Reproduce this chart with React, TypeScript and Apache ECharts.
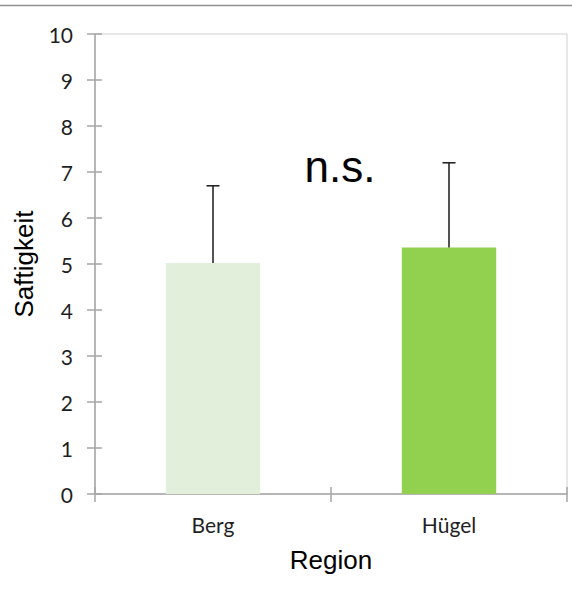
import React, { useEffect, useRef } from "react";
import * as echarts from "echarts";

const categories = ["Berg", "Hügel"];
const means = [5.02, 5.36];
const upperErrors = [6.7, 7.2];
const barColors = ["#E2EFDA", "#92D050"];
const yMin = 0;
const yMax = 10;
const yInterval = 1;
const significanceLabel = "n.s.";
const xTitle = "Region";
const yTitle = "Saftigkeit";

export default function App() {
  const ref = useRef<HTMLDivElement>(null);

  useEffect(() => {
    const chart = echarts.init(ref.current!, undefined, { renderer: "svg" });
    const axisColor = "#a6a6a6";
    const tickStyle = { color: axisColor, width: 1.5 };
    const labelFont = "Lato";
    const titleFont = "Liberation Sans";

    chart.setOption({
      animation: false,
      grid: {
        left: 95,
        right: 5,
        top: 34,
        bottom: 112,
        show: true,
        borderColor: "#d0d0d0",
        borderWidth: 1,
        backgroundColor: "transparent",
      },
      xAxis: [
        {
          type: "category",
          data: categories,
          position: "bottom",
          axisLine: { show: true, onZero: false, lineStyle: { color: axisColor, width: 1.5 } },
          axisTick: { show: true, inside: false, length: 8, lineStyle: tickStyle },
          axisLabel: { margin: 20, fontFamily: labelFont, fontSize: 21, color: "#1f1f1f" },
          splitLine: { show: false },
          name: xTitle,
          nameLocation: "middle",
          nameGap: 53,
          nameTextStyle: { fontFamily: titleFont, fontSize: 26, color: "#000" },
        },
        {
          type: "category",
          data: categories,
          position: "bottom",
          axisLine: { show: false, onZero: false },
          axisTick: { show: true, inside: true, length: 7, lineStyle: tickStyle },
          axisLabel: { show: false },
          splitLine: { show: false },
        },
      ],
      yAxis: [
        {
          type: "value",
          min: yMin,
          max: yMax,
          interval: yInterval,
          position: "left",
          axisLine: { show: true, onZero: false, lineStyle: { color: axisColor, width: 1.5 } },
          axisTick: { show: true, inside: false, length: 8, lineStyle: tickStyle },
          axisLabel: { margin: 22, fontFamily: labelFont, fontSize: 21, color: "#1f1f1f" },
          splitLine: { show: false },
          name: yTitle,
          nameLocation: "middle",
          nameGap: 58,
          nameTextStyle: { fontFamily: titleFont, fontSize: 26, color: "#000" },
        },
        {
          type: "value",
          min: yMin,
          max: yMax,
          interval: yInterval,
          position: "left",
          axisLine: { show: false, onZero: false },
          axisTick: { show: true, inside: true, length: 7, lineStyle: tickStyle },
          axisLabel: { show: false },
          splitLine: { show: false },
        },
      ],
      series: [
        {
          type: "bar",
          xAxisIndex: 0,
          yAxisIndex: 0,
          barWidth: "40%",
          data: means.map((v, i) => ({ value: v, itemStyle: { color: barColors[i] } })),
          z: 2,
        },
        {
          type: "custom",
          xAxisIndex: 0,
          yAxisIndex: 0,
          data: categories.map((c, i) => [i, means[i], upperErrors[i]]),
          renderItem: (params: any, api: any) => {
            const base = api.coord([api.value(0), api.value(1)]);
            const top = api.coord([api.value(0), api.value(2)]);
            const hw = 6.5;
            const style = { stroke: "#1a1a1a", lineWidth: 1.5 };
            return {
              type: "group",
              children: [
                { type: "line", shape: { x1: base[0], y1: base[1], x2: top[0], y2: top[1] }, style },
                { type: "line", shape: { x1: top[0] - hw, y1: top[1], x2: top[0] + hw, y2: top[1] }, style },
              ],
            };
          },
          z: 3,
        },
      ],
      graphic: [
        {
          type: "line",
          shape: { x1: 0, y1: 5.5, x2: 572, y2: 5.5 },
          style: { stroke: "#8f8f8f", lineWidth: 1.5 },
        },
        {
          type: "text",
          x: 340,
          y: 166,
          style: {
            text: significanceLabel,
            fontFamily: titleFont,
            fontSize: 44,
            fill: "#000",
            align: "center",
            verticalAlign: "middle",
          },
        },
      ],
    });

    return () => chart.dispose();
  }, []);

  return (
    <div
      ref={ref}
      style={{ position: "fixed", left: 0, top: 0, width: 572, height: 606, background: "#fff" }}
    />
  );
}
